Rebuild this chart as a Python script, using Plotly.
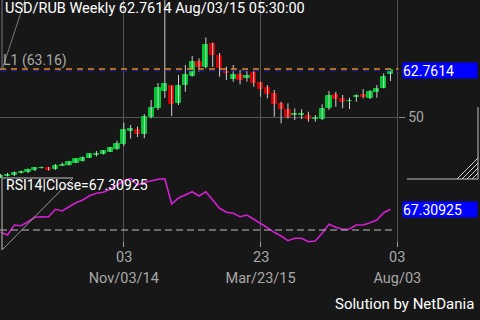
import plotly.graph_objects as go

# ---------------- data ----------------
week_index = list(range(58))  # weekly bars, Jun/30/14 .. Aug/03/15

opens = [33.42, 33.97, 34.11, 34.79, 34.93, 35.48, 36.03, 36.16, 35.75, 36.71,
         36.85, 37.53, 37.94, 38.90, 39.72, 39.86, 40.55, 41.23, 42.60, 46.30,
         46.44, 45.34, 49.92, 52.38, 57.12, 58.49, 53.75, 58.77, 61.23, 65.21,
         63.78, 70.00, 66.71, 62.41, 60.41, 61.51, 60.77, 61.97, 59.23, 57.86,
         56.30, 53.48, 51.92, 50.55, 50.63, 50.27, 49.59, 49.45, 52.38, 56.03,
         55.07, 54.30, 55.40, 56.03, 55.29, 56.93, 58.03, 61.78]
highs = [34.38, 34.66, 35.07, 35.34, 35.89, 36.30, 36.44, 36.30, 37.12, 37.53,
         37.94, 38.63, 39.18, 40.00, 40.68, 40.96, 41.78, 43.56, 48.44, 47.81,
         47.40, 50.82, 54.66, 59.32, 82.50, 58.60, 61.51, 64.25, 66.71, 66.08,
         71.78, 70.41, 67.54, 63.78, 64.25, 62.88, 63.15, 62.60, 59.67, 58.77,
         57.40, 54.19, 53.75, 52.38, 52.11, 51.45, 50.55, 53.48, 57.12, 56.93,
         56.03, 55.29, 56.22, 57.67, 57.40, 58.77, 61.97, 62.88]
lows = [33.15, 33.70, 33.83, 34.52, 34.66, 35.20, 35.89, 35.34, 35.48, 36.57,
        36.71, 37.40, 37.81, 38.77, 39.18, 39.72, 40.41, 40.96, 42.05, 44.11,
        44.52, 44.16, 49.64, 51.92, 55.21, 50.27, 53.29, 56.93, 61.04, 62.41,
        63.29, 63.70, 61.04, 60.14, 59.67, 58.96, 59.67, 58.30, 55.56, 55.12,
        50.08, 48.27, 49.59, 49.18, 49.45, 48.71, 48.71, 49.18, 51.92, 52.82,
        52.38, 52.19, 54.19, 55.12, 54.93, 55.29, 57.86, 59.86]
closes = [33.97, 34.24, 34.79, 34.93, 35.61, 36.03, 36.16, 35.61, 36.71, 36.98,
          37.67, 38.49, 38.90, 39.86, 40.00, 40.68, 41.64, 42.74, 46.44, 46.71,
          45.48, 49.92, 52.38, 57.95, 58.96, 53.56, 58.49, 61.51, 65.15, 63.70,
          69.73, 66.99, 63.34, 61.97, 61.51, 60.14, 61.32, 59.23, 57.67, 56.22,
          53.56, 52.06, 50.00, 50.74, 50.82, 49.59, 49.86, 52.19, 55.89, 54.85,
          54.03, 54.47, 55.84, 55.48, 56.77, 57.67, 61.04, 62.7614]
rsi14 = [48.08, 45.82, 54.18, 53.59, 56.94, 60.62, 61.12, 60.90, 67.31, 65.88,
         69.48, 72.82, 75.08, 78.67, 80.68, 81.52, 84.28, 87.62, 90.96, 93.22,
         87.62, 89.71, 90.96, 92.39, 92.89, 71.74, 76.75, 79.68, 82.02, 78.42,
         82.02, 75.08, 68.14, 64.80, 63.96, 61.12, 62.54, 58.95, 55.60, 51.92,
         48.08, 44.98, 41.05, 43.06, 43.06, 40.22, 40.80, 47.24, 54.77, 52.26,
         50.59, 50.84, 54.18, 54.18, 56.10, 58.36, 64.46, 67.30925]

tick_positions = [18, 38, 58]
tick_days = ["03", "23", "03"]
tick_dates = ["Nov/03/14", "Mar/23/15", "Aug/03"]
price_ticks = [50]
l1_level = 63.16
rsi_mid = 50
last_price = 62.7614
last_rsi = 67.30925

title_text = "USD/RUB Weekly 62.7614 Aug/03/15 05:30:00"
l1_text = "L1 (63.16)"
rsi_text = "RSI14|Close=67.30925"
credit_text = "Solution by NetDania"

# ---------------- styling ----------------
W, H = 480, 320
BG = "#171717"
GRID = "#555555"
GREEN = "#00C832"
RED = "#D00000"
FONT = "Roboto"
LABEL_GREY = "#A8A8A8"


def px(x):
    return x / W


def py(y):
    return 1 - y / H


fig = go.Figure()

# wicks
wx, wy = [], []
for i, lo, hi in zip(week_index, lows, highs):
    wx += [i, i, None]
    wy += [lo, hi, None]
fig.add_trace(go.Scatter(x=wx, y=wy, mode="lines", line=dict(color="#CFCFCF", width=1),
                         hoverinfo="skip", showlegend=False, xaxis="x", yaxis="y"))

# bodies
body_base = [min(o, c) for o, c in zip(opens, closes)]
body_len = [abs(c - o) for o, c in zip(opens, closes)]
body_col = [GREEN if c >= o else RED for o, c in zip(opens, closes)]
fig.add_trace(go.Bar(x=week_index, y=body_len, base=body_base, width=0.76,
                     marker=dict(color=body_col, line=dict(color=body_col, width=1)),
                     showlegend=False, xaxis="x", yaxis="y"))

# RSI
fig.add_trace(go.Scatter(x=week_index, y=rsi14, mode="lines",
                         line=dict(color="#D21FD2", width=1.6),
                         showlegend=False, xaxis="x2", yaxis="y2"))
# placeholder trace so the date-label axis is drawn
fig.add_trace(go.Scatter(x=[tick_positions[0]], y=[None], mode="lines", hoverinfo="skip",
                         showlegend=False, xaxis="x3", yaxis="y2"))

xr = [-0.1, 58.15]
xdom = [0, 0.83]
common_x = dict(range=xr, domain=xdom, tickvals=tick_positions, zeroline=False,
                showline=False, fixedrange=True, automargin=False)
label_font = dict(size=14.5, color=LABEL_GREY, family=FONT)

fig.update_layout(
    width=W, height=H, margin=dict(l=0, r=0, t=0, b=0, pad=0, autoexpand=False),
    paper_bgcolor=BG, plot_bgcolor=BG,
    font=dict(family=FONT, color="#FFFFFF"),
    showlegend=False, bargap=0,
    xaxis=dict(**common_x, anchor="y", showticklabels=False, ticks="",
               showgrid=True, gridcolor=GRID, gridwidth=1),
    yaxis=dict(domain=[py(178), 1], range=[33.29, 82.06], side="right", anchor="x",
               tickvals=price_ticks, ticks="outside", ticklen=6, tickcolor="#8A8A8A",
               tickfont=dict(size=14, color=LABEL_GREY, family=FONT), automargin=False,
               showgrid=True, gridcolor=GRID, zeroline=False, showline=False, fixedrange=True),
    xaxis2=dict(**common_x, anchor="y2", matches="x", showticklabels=False, ticks="inside",
                ticklen=5, tickcolor="#9A9A9A", showgrid=True, gridcolor=GRID, gridwidth=1),
    xaxis3=dict(**common_x, overlaying="x2", matches="x", anchor="free", position=py(267),
                side="bottom", ticktext=tick_dates, ticks="", showgrid=False,
                tickfont=label_font),
    yaxis2=dict(domain=[py(247), py(178)], range=[35.79, 93.47], anchor="x2",
                showticklabels=False, ticks="", showgrid=False, zeroline=False,
                showline=False, fixedrange=True, automargin=False),
)

shapes = [
    dict(type="line", xref="x domain", yref="y", x0=0, x1=1, y0=last_price, y1=last_price,
         line=dict(color="#1C1C9C", width=1.6, dash="6px,5px")),
    dict(type="line", xref="x domain", yref="y", x0=0, x1=1, y0=l1_level, y1=l1_level,
         line=dict(color="#E8861A", width=1.6, dash="6px,5px")),
    dict(type="line", xref="x2 domain", yref="y2", x0=0, x1=0.99, y0=rsi_mid, y1=rsi_mid,
         line=dict(color="#BDBDBD", width=1, dash="7px,4px")),
]
deco = "#7A7A7A"
# top-left price pane decoration
shapes += [
    dict(type="line", xref="paper", yref="paper", x0=px(2), x1=px(2), y0=py(0), y1=py(70),
         line=dict(color=deco, width=1)),
    dict(type="line", xref="paper", yref="paper", x0=px(2), x1=px(25), y0=py(70), y1=py(0),
         line=dict(color=deco, width=1)),
]
# RSI pane left decoration
shapes += [
    dict(type="line", xref="paper", yref="paper", x0=px(2), x1=px(73), y0=py(178), y1=py(178),
         line=dict(color="#8A8A8A", width=1.5)),
    dict(type="line", xref="paper", yref="paper", x0=px(2), x1=px(2), y0=py(178), y1=py(250),
         line=dict(color="#8A8A8A", width=1.5)),
    dict(type="line", xref="paper", yref="paper", x0=px(73), x1=px(2), y0=py(178), y1=py(250),
         line=dict(color="#9A9A9A", width=1)),
]
# right resize handle
shapes += [
    dict(type="line", xref="paper", yref="paper", x0=px(478), x1=px(478), y0=py(107), y1=py(179),
         line=dict(color="#8A8A8A", width=1.5)),
    dict(type="line", xref="paper", yref="paper", x0=px(407), x1=px(478), y0=py(179), y1=py(179),
         line=dict(color="#8A8A8A", width=1.5)),
]
for k in range(4):
    shapes.append(dict(type="line", xref="paper", yref="paper",
                       x0=px(457 + 5 * k), x1=px(478), y0=py(179), y1=py(158 + 5 * k),
                       line=dict(color="#CFCFCF", width=1)))
fig.update_layout(shapes=shapes)

annotations = [
    dict(text=title_text, xref="paper", yref="paper", x=px(3), y=py(9), xanchor="left",
         yanchor="middle", showarrow=False, font=dict(size=14.5, color="#FFFFFF", family=FONT)),
    dict(text=l1_text, xref="paper", yref="paper", x=px(1), y=py(60), xanchor="left",
         yanchor="middle", showarrow=False, font=dict(size=14, color=LABEL_GREY, family=FONT)),
    dict(text=rsi_text, xref="paper", yref="paper", x=px(4), y=py(185), xanchor="left",
         yanchor="middle", showarrow=False, font=dict(size=14, color="#FFFFFF", family=FONT)),
    dict(text=credit_text, xref="paper", yref="paper", x=px(476), y=py(304), xanchor="right",
         yanchor="middle", showarrow=False, font=dict(size=15, color="#FFFFFF", family=FONT)),
    dict(text=f"{last_price}", xref="paper", yref="y", x=px(402), y=last_price, xanchor="left",
         yanchor="middle", showarrow=False, bgcolor="#0000FF", width=74, height=15, align="left",
         borderpad=0, font=dict(size=14, color="#FFFFFF", family=FONT)),
    dict(text=f"{last_rsi}", xref="paper", yref="y2", x=px(402), y=last_rsi, xanchor="left",
         yanchor="middle", showarrow=False, bgcolor="#0000FF", width=74, height=15, align="left",
         borderpad=0, font=dict(size=14, color="#FFFFFF", family=FONT)),
]
# day-of-month labels under each tick
for tv, day in zip(tick_positions, tick_days):
    annotations.append(dict(text=day, xref="x2", yref="paper", x=tv, y=py(257),
                            xanchor="center", yanchor="middle", showarrow=False,
                            font=label_font))
fig.update_layout(annotations=annotations)

fig.write_html("out.html")
